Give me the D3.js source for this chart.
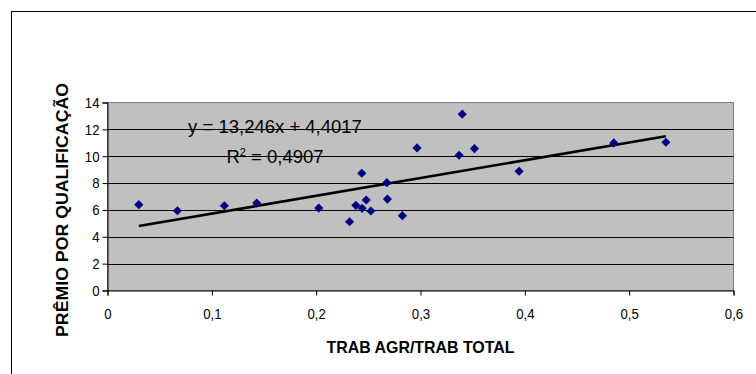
<!DOCTYPE html>
<html>
<head>
<meta charset="utf-8">
<script src="https://cdn.jsdelivr.net/npm/d3@7"></script>
<style>
  html, body { margin: 0; padding: 0; background: #fff; }
  svg { display: block; }
  text { font-family: "Liberation Sans", Arial, sans-serif; fill: #000; }
</style>
</head>
<body>
<svg id="chart" width="756" height="374"></svg>
<script>
// ---- data ----
const xValues = [0.030, 0.067, 0.112, 0.143, 0.2025, 0.232, 0.238, 0.2437, 0.244, 0.248, 0.2524,
                 0.2677, 0.2683, 0.2826, 0.2967, 0.340, 0.337, 0.3517, 0.3945, 0.4853, 0.5352];
const yValues = [6.39, 5.94, 6.31, 6.51, 6.14, 5.12, 6.34, 8.73, 6.12, 6.74, 5.92,
                 8.03, 6.81, 5.57, 10.62, 13.13, 10.07, 10.57, 8.88, 10.99, 11.04];
const xTicks = [0, 0.1, 0.2, 0.3, 0.4, 0.5, 0.6];
const xTickLabels = ["0", "0,1", "0,2", "0,3", "0,4", "0,5", "0,6"];
const yTicks = [0, 2, 4, 6, 8, 10, 12, 14];
const yTickLabels = ["0", "2", "4", "6", "8", "10", "12", "14"];
const trendSlope = 13.246;
const trendIntercept = 4.4017;
const equationText = "y = 13,246x + 4,4017";
const r2Value = "0,4907";
const xTitle = "TRAB AGR/TRAB TOTAL";
const yTitle = "PRÊMIO POR QUALIFICAÇÃO";

// ---- layout ----
const svg = d3.select("#chart");
const L = 107.5, R = 733.5, T = 102.5, B = 290.5;

const x = d3.scaleLinear().domain([0, 0.6]).range([L, R]);
const y = d3.scaleLinear().domain([0, 14]).range([B, T]);

function condense(sel, f) {
  sel.each(function () {
    const w = this.getComputedTextLength();
    d3.select(this).attr("textLength", w * f).attr("lengthAdjust", "spacingAndGlyphs");
  });
}

// outer border (extends beyond the image on right and bottom)
svg.append("rect").attr("x", 11.5).attr("y", 11.5).attr("width", 800).attr("height", 400)
  .attr("fill", "none").attr("stroke", "#000").attr("stroke-width", 1);

// plot area
svg.append("rect").attr("x", L).attr("y", T).attr("width", R - L).attr("height", B - T)
  .attr("fill", "#c0c0c0").attr("stroke", "#808080").attr("stroke-width", 1);

// gridlines
svg.append("g").selectAll("line").data(yTicks.filter(d => d > 0 && d < 14)).join("line")
  .attr("x1", L).attr("x2", R)
  .attr("y1", d => Math.round(y(d)) + 0.5).attr("y2", d => Math.round(y(d)) + 0.5)
  .attr("stroke", "#000").attr("stroke-width", 1);

// x axis
const xAxis = svg.append("g").attr("transform", `translate(0,${B})`)
  .call(d3.axisBottom(x).tickValues(xTicks).tickFormat((d, i) => xTickLabels[i]).tickSizeOuter(0).tickSize(5).tickPadding(13));
xAxis.select(".domain").attr("stroke", "#000");
xAxis.selectAll(".tick line").attr("stroke", "#000");
xAxis.selectAll("text").attr("font-size", 15).attr("font-family", "Liberation Sans, Arial, sans-serif").attr("fill", "#000");
condense(xAxis.selectAll("text"), 0.88);

// y axis
const yAxis = svg.append("g").attr("transform", `translate(${L},0)`)
  .call(d3.axisLeft(y).tickValues(yTicks).tickFormat((d, i) => yTickLabels[i]).tickSizeOuter(0).tickSize(5).tickPadding(3));
yAxis.select(".domain").attr("stroke", "#000");
yAxis.selectAll(".tick line").attr("stroke", "#000");
yAxis.selectAll("text").attr("font-size", 15).attr("font-family", "Liberation Sans, Arial, sans-serif").attr("fill", "#000");
condense(yAxis.selectAll("text"), 0.88);

// trendline
const xMin = d3.min(xValues), xMax = d3.max(xValues);
svg.append("line")
  .attr("x1", x(xMin)).attr("y1", y(trendSlope * xMin + trendIntercept))
  .attr("x2", x(xMax)).attr("y2", y(trendSlope * xMax + trendIntercept))
  .attr("stroke", "#000").attr("stroke-width", 2.6);

// points
const pts = xValues.map((v, i) => [v, yValues[i]]);
svg.append("g").selectAll("path").data(pts).join("path")
  .attr("d", d3.symbol(d3.symbolSquare, 42))
  .attr("transform", d => `translate(${x(d[0])},${y(d[1])}) rotate(45)`)
  .attr("fill", "#000080");

// equation
svg.append("text").attr("x", 275).attr("y", 133).attr("text-anchor", "middle")
  .attr("font-size", 18.5).text(equationText);
const r2 = svg.append("text").attr("x", 275).attr("y", 163).attr("text-anchor", "middle")
  .attr("font-size", 18.5);
r2.append("tspan").text("R");
r2.append("tspan").attr("font-size", 11).attr("dy", -7).text("2");
r2.append("tspan").attr("dy", 7).text(" = " + r2Value);

// axis titles
const xt = svg.append("text").attr("x", (L + R) / 2).attr("y", 353).attr("text-anchor", "middle")
  .attr("font-size", 17).attr("font-weight", "bold").text(xTitle);
xt.attr("textLength", 188).attr("lengthAdjust", "spacingAndGlyphs");

const yt = svg.append("text").attr("transform", "translate(67.5,210) rotate(-90)")
  .attr("text-anchor", "middle").attr("font-size", 17).attr("font-weight", "bold").text(yTitle);
yt.attr("textLength", 254).attr("lengthAdjust", "spacingAndGlyphs");
</script>
</body>
</html>
